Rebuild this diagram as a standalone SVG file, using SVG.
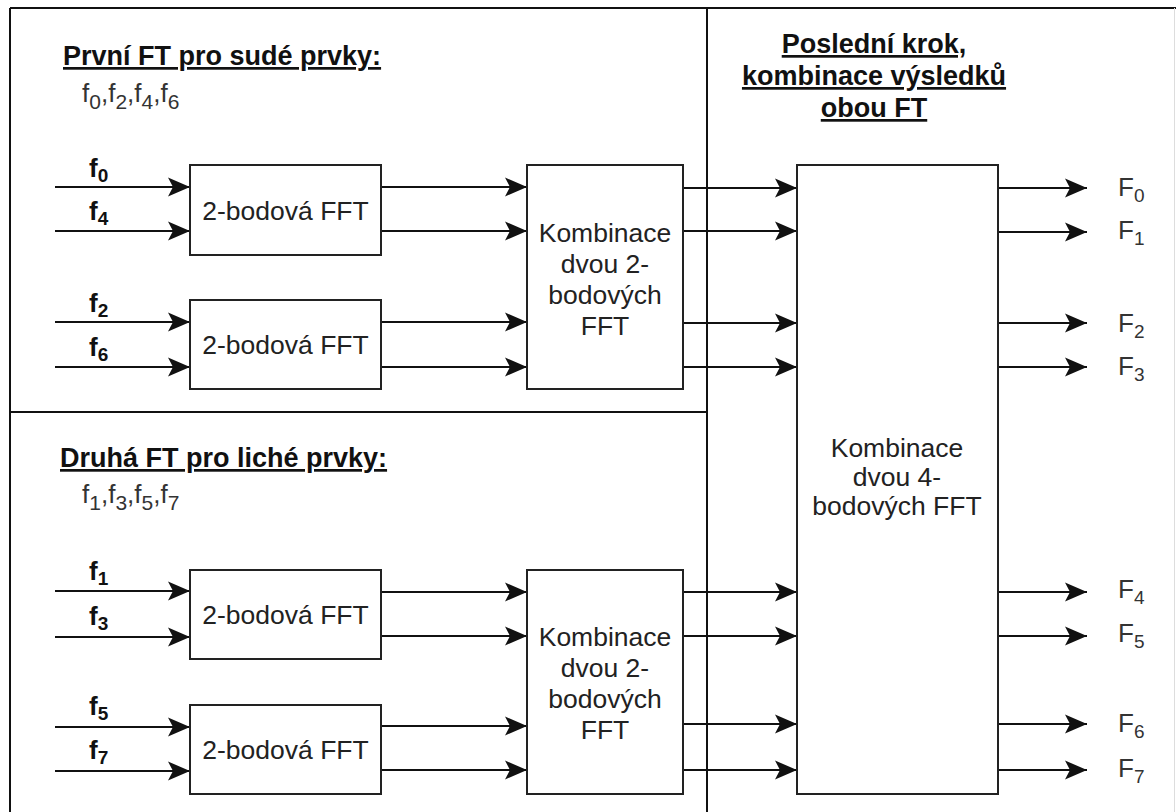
<svg xmlns="http://www.w3.org/2000/svg" width="1176" height="812" viewBox="0 0 1176 812">
<style>
  .frame{fill:none;stroke:#111;stroke-width:2}
  .box{fill:#fff;stroke:#222;stroke-width:2}
  .conn{fill:none;stroke:#111;stroke-width:2.2;marker-end:url(#arr)}
  text{font-family:"Liberation Sans",Arial,sans-serif;fill:#222}
  .t{font-size:26.5px;text-anchor:middle}
  .title{font-size:27px;font-weight:bold;text-decoration:underline;fill:#111}
  .in{font-size:26px;font-weight:bold;fill:#111}
  .out{font-size:26px;fill:#333}
  .list{font-size:26px;fill:#333}
</style>
<defs>
  <marker id="arr" markerUnits="userSpaceOnUse" markerWidth="22" markerHeight="20" viewBox="0 0 22 20" refX="22" refY="10" orient="auto">
    <path d="M0,0.5 L22,10 L0,19.5 L5,10 z" fill="#111"/>
  </marker>
</defs>
<rect width="1176" height="812" fill="#fff"/>
<g id="frames">
  <line class="frame" x1="10" y1="8" x2="1176" y2="8"/>
  <line class="frame" x1="10" y1="8" x2="10" y2="812"/>
  <line class="frame" x1="707" y1="8" x2="707" y2="812"/>
  <line class="frame" x1="10" y1="412" x2="707" y2="412"/>
  <line x1="1174.5" y1="8" x2="1174.5" y2="812" stroke="#ddd" stroke-width="1"/>
</g>
<g id="titles">
  <text class="title" x="63" y="65">První FT pro sudé prvky:</text>
  <text class="list" x="82" y="102">f<tspan font-size="21" dy="7">0</tspan><tspan dy="-7">,f</tspan><tspan font-size="21" dy="7">2</tspan><tspan dy="-7">,f</tspan><tspan font-size="21" dy="7">4</tspan><tspan dy="-7">,f</tspan><tspan font-size="21" dy="7">6</tspan></text>
  <text class="title" x="60" y="467">Druhá FT pro liché prvky:</text>
  <text class="list" x="82" y="503">f<tspan font-size="21" dy="7">1</tspan><tspan dy="-7">,f</tspan><tspan font-size="21" dy="7">3</tspan><tspan dy="-7">,f</tspan><tspan font-size="21" dy="7">5</tspan><tspan dy="-7">,f</tspan><tspan font-size="21" dy="7">7</tspan></text>
  <text class="title" x="874" y="53" text-anchor="middle">Poslední krok,</text>
  <text class="title" x="874" y="85" text-anchor="middle">kombinace výsledků</text>
  <text class="title" x="874" y="117" text-anchor="middle">obou FT</text>
</g>
<g id="connectors">
  <line class="conn" x1="55" y1="187" x2="190" y2="187"/>
  <line class="conn" x1="55" y1="231" x2="190" y2="231"/>
  <line class="conn" x1="55" y1="322" x2="190" y2="322"/>
  <line class="conn" x1="55" y1="367" x2="190" y2="367"/>
  <line class="conn" x1="55" y1="591" x2="190" y2="591"/>
  <line class="conn" x1="55" y1="637" x2="190" y2="637"/>
  <line class="conn" x1="55" y1="727" x2="190" y2="727"/>
  <line class="conn" x1="55" y1="771" x2="190" y2="771"/>
  <line class="conn" x1="381" y1="187" x2="527" y2="187"/>
  <line class="conn" x1="381" y1="231" x2="527" y2="231"/>
  <line class="conn" x1="381" y1="322" x2="527" y2="322"/>
  <line class="conn" x1="381" y1="367" x2="527" y2="367"/>
  <line class="conn" x1="381" y1="592" x2="527" y2="592"/>
  <line class="conn" x1="381" y1="636" x2="527" y2="636"/>
  <line class="conn" x1="381" y1="726" x2="527" y2="726"/>
  <line class="conn" x1="381" y1="770" x2="527" y2="770"/>
  <line class="conn" x1="683" y1="188" x2="797" y2="188"/>
  <line class="conn" x1="683" y1="231" x2="797" y2="231"/>
  <line class="conn" x1="683" y1="323" x2="797" y2="323"/>
  <line class="conn" x1="683" y1="367" x2="797" y2="367"/>
  <line class="conn" x1="683" y1="592" x2="797" y2="592"/>
  <line class="conn" x1="683" y1="636" x2="797" y2="636"/>
  <line class="conn" x1="683" y1="724" x2="797" y2="724"/>
  <line class="conn" x1="683" y1="770" x2="797" y2="770"/>
  <line class="conn" x1="998" y1="188" x2="1087" y2="188"/>
  <line class="conn" x1="998" y1="232" x2="1087" y2="232"/>
  <line class="conn" x1="998" y1="323" x2="1087" y2="323"/>
  <line class="conn" x1="998" y1="367" x2="1087" y2="367"/>
  <line class="conn" x1="998" y1="592" x2="1087" y2="592"/>
  <line class="conn" x1="998" y1="636" x2="1087" y2="636"/>
  <line class="conn" x1="998" y1="724" x2="1087" y2="724"/>
  <line class="conn" x1="998" y1="770" x2="1087" y2="770"/>
</g>
<g id="inputs">
  <text class="in" x="89" y="177">f<tspan font-size="19" dy="5">0</tspan></text>
  <text class="in" x="89" y="220">f<tspan font-size="19" dy="5">4</tspan></text>
  <text class="in" x="89" y="312">f<tspan font-size="19" dy="5">2</tspan></text>
  <text class="in" x="89" y="356">f<tspan font-size="19" dy="5">6</tspan></text>
  <text class="in" x="89" y="580">f<tspan font-size="19" dy="5">1</tspan></text>
  <text class="in" x="89" y="625">f<tspan font-size="19" dy="5">3</tspan></text>
  <text class="in" x="89" y="715">f<tspan font-size="19" dy="5">5</tspan></text>
  <text class="in" x="89" y="759">f<tspan font-size="19" dy="5">7</tspan></text>
</g>
<g id="fft1">
  <rect class="box" x="190" y="165" width="191" height="90"/>
  <text class="t" x="285.5" y="220">2-bodová FFT</text>
</g>
<g id="fft2">
  <rect class="box" x="190" y="300" width="191" height="89"/>
  <text class="t" x="285.5" y="354">2-bodová FFT</text>
</g>
<g id="fft3">
  <rect class="box" x="190" y="570" width="191" height="89"/>
  <text class="t" x="285.5" y="624">2-bodová FFT</text>
</g>
<g id="fft4">
  <rect class="box" x="190" y="705" width="191" height="89"/>
  <text class="t" x="285.5" y="759">2-bodová FFT</text>
</g>
<g id="comb1">
  <rect class="box" x="527" y="165" width="156" height="224"/>
  <text class="t" x="605" y="242">Kombinace</text>
  <text class="t" x="605" y="273">dvou 2-</text>
  <text class="t" x="605" y="304">bodových</text>
  <text class="t" x="605" y="335">FFT</text>
</g>
<g id="comb2">
  <rect class="box" x="527" y="570" width="156" height="224"/>
  <text class="t" x="605" y="646">Kombinace</text>
  <text class="t" x="605" y="677">dvou 2-</text>
  <text class="t" x="605" y="708">bodových</text>
  <text class="t" x="605" y="739">FFT</text>
</g>
<g id="comb4">
  <rect class="box" x="797" y="165" width="201" height="629"/>
  <text class="t" x="897" y="457">Kombinace</text>
  <text class="t" x="897" y="486">dvou 4-</text>
  <text class="t" x="897" y="515">bodových FFT</text>
</g>
<g id="outputs">
  <text class="out" x="1118" y="196">F<tspan font-size="19" dy="6">0</tspan></text>
  <text class="out" x="1118" y="239">F<tspan font-size="19" dy="6">1</tspan></text>
  <text class="out" x="1118" y="332">F<tspan font-size="19" dy="6">2</tspan></text>
  <text class="out" x="1118" y="375">F<tspan font-size="19" dy="6">3</tspan></text>
  <text class="out" x="1118" y="598">F<tspan font-size="19" dy="6">4</tspan></text>
  <text class="out" x="1118" y="642">F<tspan font-size="19" dy="6">5</tspan></text>
  <text class="out" x="1118" y="732">F<tspan font-size="19" dy="6">6</tspan></text>
  <text class="out" x="1118" y="777">F<tspan font-size="19" dy="6">7</tspan></text>
</g>
</svg>
